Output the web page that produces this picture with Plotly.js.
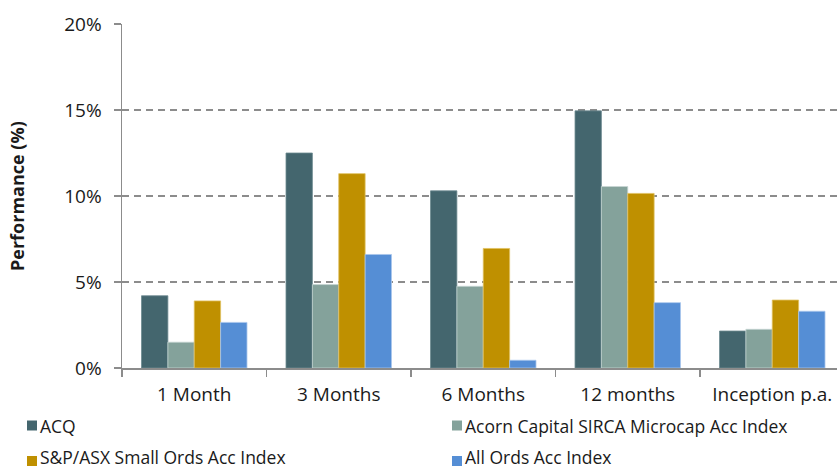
<!DOCTYPE html>
<html>
<head>
<meta charset="utf-8">
<script src="https://cdn.plot.ly/plotly-3.0.1.min.js"></script>
<style>html,body{margin:0;padding:0;background:#fff;}#chart{width:837px;height:469px;}</style>
</head>
<body>
<div id="chart"></div>
<script>
const categories = ["1 Month", "3 Months", "6 Months", "12 months", "Inception p.a."];
const acq = [4.2, 12.5, 10.3, 14.95, 2.15];
const acorn = [1.5, 4.85, 4.75, 10.55, 2.25];
const smallOrds = [3.9, 11.3, 6.95, 10.15, 3.95];
const allOrds = [2.65, 6.6, 0.45, 3.8, 3.3];
const seriesNames = ["ACQ", "Acorn Capital SIRCA Microcap Acc Index", "S&P/ASX Small Ords Acc Index", "All Ords Acc Index"];
const colors = ["#44666e", "#84a29b", "#bf9000", "#558ed5"];
const lineColors = ["#6d8a91", "#c6d6d3", "#e0c060", "#a9c6ec"];

const font = "Open Sans, sans-serif";
const textColor = "#1a1a1a";
const W = 837, H = 469, L = 122, T = 24, B = 101;
const plotW = W - L, plotH = H - T - B;
const px2x = px => (px - L) / plotW;
const py2y = py => (H - B - py) / plotH;

const seriesData = [acq, acorn, smallOrds, allOrds];
const traces = seriesData.map((d, i) => ({
  type: "bar",
  x: categories,
  y: d,
  name: seriesNames[i],
  marker: {color: colors[i], line: {color: lineColors[i], width: 0.8}},
  showlegend: false,
  hoverinfo: "skip"
}));

// custom legend (two columns, two rows) drawn from the series arrays
const legendCols = [27, 452];
const markerRows = [425.5, 461];
const textRows = [426, 457];
const shapes = [];
const annotations = [];
seriesNames.forEach((name, i) => {
  const cx = legendCols[i % 2], r = Math.floor(i / 2);
  const my = markerRows[r], ty = textRows[r];
  shapes.push({
    type: "rect", xref: "paper", yref: "paper",
    x0: px2x(cx), x1: px2x(cx + 10), y0: py2y(my + 5), y1: py2y(my - 5),
    fillcolor: colors[i], line: {width: 0}
  });
  annotations.push({
    xref: "paper", yref: "paper", x: px2x(cx + 11.5), y: py2y(ty),
    xanchor: "left", yanchor: "middle", showarrow: false, borderpad: 0,
    text: name, font: {family: font, size: 17.5, color: textColor}
  });
});
annotations.push({
  xref: "paper", yref: "paper", x: px2x(17), y: 0.5,
  xanchor: "center", yanchor: "middle", showarrow: false, textangle: -90,
  text: "<b>Performance (%)</b>", font: {family: font, size: 18, color: textColor}
});

const layout = {
  width: W, height: H,
  margin: {l: L, r: 0, t: T, b: B, autoexpand: false},
  paper_bgcolor: "#fff", plot_bgcolor: "#fff",
  font: {family: font, size: 19, color: textColor},
  barmode: "group",
  bargap: 0.27,
  bargroupgap: 0,
  showlegend: false,
  shapes: shapes,
  annotations: annotations,
  xaxis: {
    type: "category",
    range: [-0.5, 4.448],
    showline: true, linecolor: "#8c8c8c", linewidth: 1.5,
    ticks: "outside", ticklen: 7, tickcolor: "#8c8c8c", tickwidth: 1.5,
    tickson: "boundaries",
    ticklabelstandoff: 9,
    tickangle: 0,
    showgrid: false,
    tickfont: {family: font, size: 19, color: textColor},
    automargin: false,
    fixedrange: true
  },
  yaxis: {
    range: [0, 20],
    dtick: 5,
    ticksuffix: "%",
    showline: true, linecolor: "#8c8c8c", linewidth: 1.5,
    ticks: "outside", ticklen: 7, tickcolor: "#8c8c8c", tickwidth: 1.5,
    ticklabelstandoff: 8,
    showgrid: true, gridcolor: "#8c8c8c", gridwidth: 1.5, griddash: "7px,5px",
    zeroline: false,
    automargin: false,
    tickfont: {family: font, size: 19, color: textColor},
    fixedrange: true
  }
};

Plotly.newPlot("chart", traces, layout, {displayModeBar: false, staticPlot: true});
</script>
</body>
</html>
